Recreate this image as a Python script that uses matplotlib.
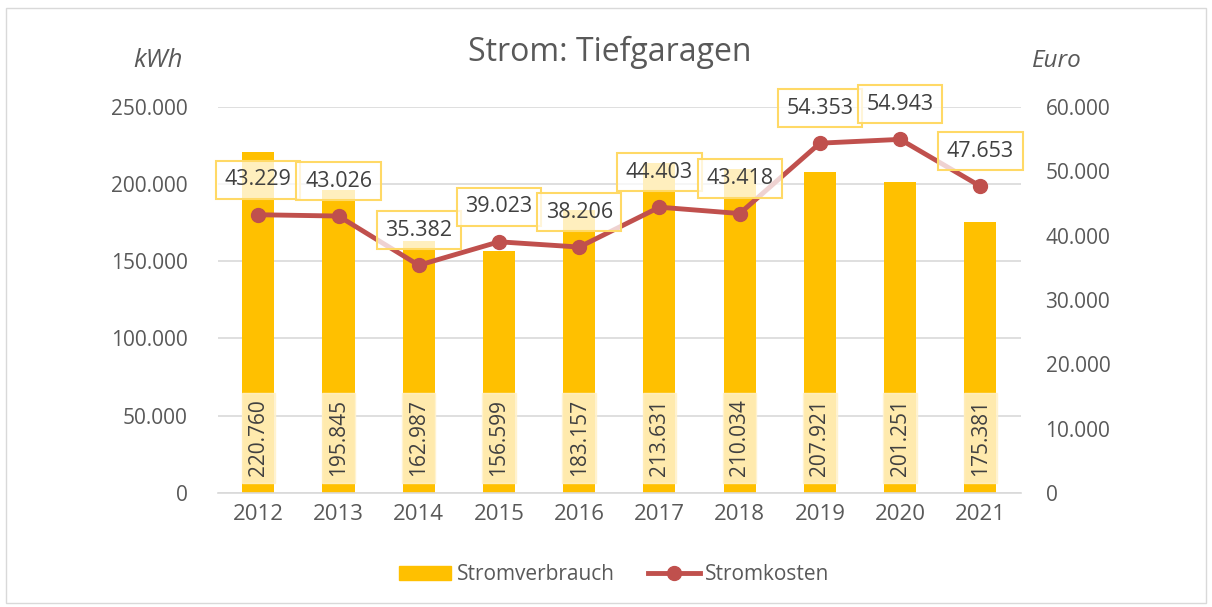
import matplotlib
matplotlib.use("Agg")
import matplotlib.pyplot as plt
from matplotlib.ticker import FuncFormatter, MultipleLocator
from matplotlib.patches import Rectangle
from matplotlib.lines import Line2D

years = ["2012", "2013", "2014", "2015", "2016", "2017", "2018", "2019", "2020", "2021"]
verbrauch = [220760, 195845, 162987, 156599, 183157, 213631, 210034, 207921, 201251, 175381]
kosten = [43229, 43026, 35382, 39023, 38206, 44403, 43418, 54353, 54943, 47653]

plt.rcParams['font.family'] = ['Open Sans', 'DejaVu Sans']
GRAY = '#595959'
DARK = '#404040'
BAR = '#FFC000'
LINE = '#C0504D'

def de(v):
    return f"{int(v):,}".replace(",", ".")

fig = plt.figure(figsize=(12.12, 6.07), dpi=100)
fig.patches.append(Rectangle((0.005, 0.007), 0.99, 0.98, transform=fig.transFigure,
                             fill=False, edgecolor='#D9D9D9', lw=1))
ax = fig.add_axes([0.180, 0.188, 0.662, 0.636])
ax2 = ax.twinx()

x = list(range(len(years)))
ax.bar(x, verbrauch, width=0.4, color=BAR, zorder=2)
ax.set_ylim(0, 250000)
ax.set_xlim(-0.5, len(years) - 0.5)
ax.yaxis.set_major_locator(MultipleLocator(50000))
ax.yaxis.set_major_formatter(FuncFormatter(lambda v, p: de(v)))
ax.grid(axis='y', color='#D9D9D9', lw=1.2, zorder=0)
ax.set_axisbelow(True)
ax.set_xticks(x)
ax.set_xticklabels(years)
for a in (ax, ax2):
    for s in a.spines.values():
        s.set_visible(False)
    a.tick_params(length=0, labelsize=15, labelcolor=GRAY)
ax.tick_params(axis='x', labelsize=16)
ax.spines['bottom'].set_visible(True)
ax.spines['bottom'].set_color('#D9D9D9')
ax.spines['bottom'].set_linewidth(1.2)
ax.tick_params(axis='y', pad=22)
ax.tick_params(axis='x', pad=8)
ax2.tick_params(axis='y', pad=18)

for xi, v in zip(x, verbrauch):
    ax.text(xi, 35600, de(v), rotation=90, ha='center', va='center', fontsize=15,
            color=DARK, zorder=4,
            bbox=dict(boxstyle='square,pad=0.3', facecolor='#FFF2CC', edgecolor='#FFF2CC',
                      alpha=0.85))

ax2.plot(x, kosten, color=LINE, lw=3.5, marker='o', markersize=10, zorder=3)
ax2.set_ylim(0, 60000)
ax2.yaxis.set_major_locator(MultipleLocator(10000))
ax2.yaxis.set_major_formatter(FuncFormatter(lambda v, p: de(v)))
for xi, v in zip(x, kosten):
    ax2.annotate(de(v), (xi, v), xytext=(0, 35), textcoords='offset pixels',
                 ha='center', va='center', fontsize=15.5, color=DARK, zorder=5,
                 bbox=dict(boxstyle='square,pad=0.4', facecolor=(1, 1, 1, 0.75),
                           edgecolor='#FFD966', lw=1.5))

fig.text(0.503, 0.913, "Strom: Tiefgaragen", ha='center', va='center', fontsize=23, color=GRAY)
fig.text(0.130, 0.900, "kWh", ha='center', va='center', fontsize=18.5, color=GRAY, style='italic')
fig.text(0.872, 0.900, "Euro", ha='center', va='center', fontsize=17.5, color=GRAY, style='italic')

handles = [Rectangle((0, 0), 1, 1, color=BAR),
           Line2D([0], [0], color=LINE, lw=3.5, marker='o', markersize=10)]
fig.legend(handles, ["Stromverbrauch", "Stromkosten"], loc='center', bbox_to_anchor=(0.507, 0.053),
           ncol=2, frameon=False, fontsize=15, labelcolor=GRAY, handlelength=2.5,
           handletextpad=0.25, columnspacing=1.6)

fig.savefig("out.png", dpi=100)
